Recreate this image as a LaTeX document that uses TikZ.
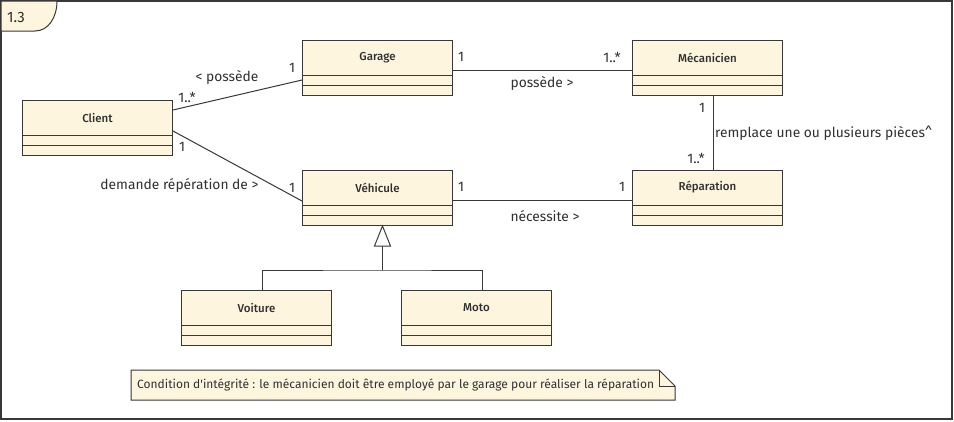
\documentclass[tikz,border=0pt]{standalone}
\usepackage{fontspec}
\setmainfont{Fira Sans}
\newfontface\classfont{Fira Sans Medium}
\definecolor{classfill}{HTML}{FEF5DF}
\definecolor{linegray}{HTML}{383838}
\definecolor{textgray}{HTML}{303030}
\begin{document}
\begin{tikzpicture}[x=1pt, y=-1pt,
    classbox/.style={rectangle, draw=linegray, fill=classfill, line width=1pt, minimum width=150pt, minimum height=55pt, inner sep=0pt, anchor=north west},
    classname/.style={anchor=center, yshift=-17.5pt, font=\fontsize{11.5pt}{13pt}\classfont, text=textgray},
    assoc/.style={font=\fontsize{13.8pt}{16pt}\selectfont, text=textgray, inner sep=0pt},
    umlline/.style={draw=linegray, line width=1pt}
]
    \fill[white] (0,0) rectangle (954,421);
    \useasboundingbox (0,0) rectangle (954,421);

    % frame
    \draw[linegray, line width=1.3pt] (1,1) rectangle (952,419);
    \draw[linegray, line width=1pt, fill=classfill] (1,1) -- (1,31) -- (35,31) .. controls (48,31) and (57,18) .. (57,1) -- cycle;
    \node[assoc, font=\fontsize{15pt}{17pt}\selectfont, anchor=west] (frametitle) at (7,17) {1.3};

    \node[classbox, label={[classname]north:Client}] (client) at (22,100) {};
    \node[classbox, label={[classname]north:Garage}] (garage) at (302,40) {};
    \node[classbox, label={[classname]north:Mécanicien}] (mecanicien) at (632,40) {};
    \node[classbox, label={[classname]north:Véhicule}] (vehicule) at (302,170) {};
    \node[classbox, label={[classname]north:Réparation}] (reparation) at (632,170) {};
    \node[classbox, label={[classname]north:Voiture}] (voiture) at (181,290) {};
    \node[classbox, label={[classname]north:Moto}] (moto) at (401,290) {};

    \foreach \c in {client,garage,mecanicien,vehicule,reparation,voiture,moto} {
        \draw[umlline] ([yshift=-35pt]\c.north west) -- ([yshift=-35pt]\c.north east);
        \draw[umlline] ([yshift=-45pt]\c.north west) -- ([yshift=-45pt]\c.north east);
    }

    % associations
    \draw[umlline] ([yshift=-10pt]client.north east) -- ([yshift=-40pt]garage.north west);
    \draw[umlline] ([yshift=-31pt]client.north east) -- ([yshift=-31pt]vehicule.north west);
    \draw[umlline] ([yshift=-30pt]garage.north east) -- ([yshift=-30pt]mecanicien.north west);
    \draw[umlline] ([xshift=5.5pt]mecanicien.south) -- ([xshift=5.5pt]reparation.north);
    \draw[umlline] ([yshift=-30pt]vehicule.north east) -- ([yshift=-30pt]reparation.north west);

    \node[assoc] (possedeA) at (227,77) {< possède};
    \node[assoc] (cardA1) at (187,97) {1..*};
    \node[assoc] (cardA2) at (292,68) {1};
    \node[assoc] (cardB1) at (182,147) {1};
    \node[assoc] (demande) at (179.5,185) {demande répération de >};
    \node[assoc] (cardB2) at (292,188) {1};
    \node[assoc] (cardC1) at (461,57) {1};
    \node[assoc] (cardC2) at (612,57) {1..*};
    \node[assoc] (possedeB) at (542,83) {possède >};
    \node[assoc] (cardD1) at (702,108) {1};
    \node[assoc, anchor=west] (remplace) at (715,133) {remplace une ou plusieurs pièces\textasciicircum};
    \node[assoc] (cardD2) at (696,158) {1..*};
    \node[assoc] (cardE1) at (461,187) {1};
    \node[assoc] (cardE2) at (622,187) {1};
    \node[assoc] (necessite) at (545,216) {nécessite >};

    % generalisation
    \coordinate (genjoin) at (382,270);
    \draw[umlline] ([xshift=5.5pt]voiture.north) |- (genjoin) -| ([xshift=5.5pt]moto.north);
    \draw[umlline] (genjoin) -- ++(0,-25);
    \draw[umlline, fill=white] ([xshift=5pt]vehicule.south) -- ++(-8,20) -- ++(16,0) -- cycle;

    % note
    \draw[umlline, fill=classfill] (131,370) -- (659,370) -- (675,386) -- (675,400) -- (131,400) -- cycle;
    \draw[umlline] (659,370) -- (659,386) -- (675,386);
    \node[assoc, font=\fontsize{12pt}{14pt}\selectfont, anchor=west] (notetext) at (137,385) {Condition d\textquotesingle intégrité : le mécanicien doit être employé par le garage pour réaliser la réparation};
\end{tikzpicture}
\end{document}
